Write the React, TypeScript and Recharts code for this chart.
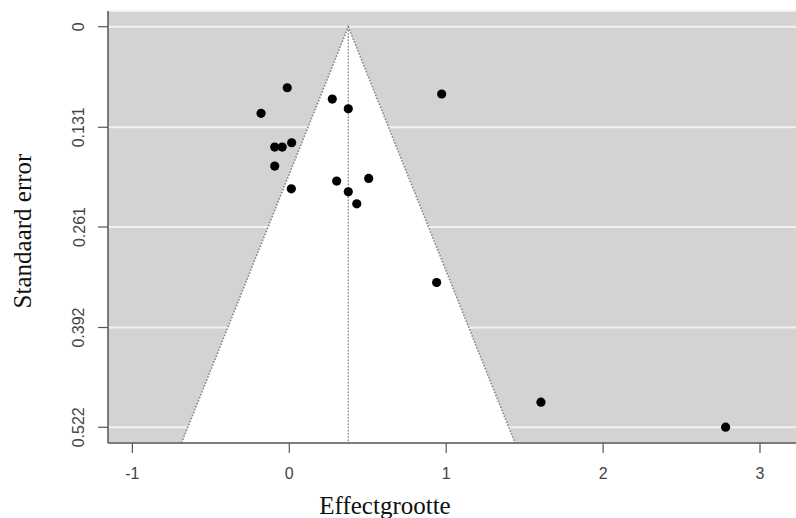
import {
  ComposedChart,
  Area,
  Scatter,
  XAxis,
  YAxis,
  CartesianGrid,
  ReferenceLine,
} from "recharts";

// studies: effect size and standard error
const effectSizes = [
  -0.013, -0.18, 0.274, 0.376, 0.971, 0.015, -0.093, -0.045, -0.093, 0.013,
  0.302, 0.506, 0.376, 0.43, 0.939, 1.604, 2.781,
];
const standardErrors = [
  0.0795, 0.1129, 0.0943, 0.1069, 0.0877, 0.1512, 0.1568, 0.1568, 0.1816,
  0.2112, 0.2012, 0.1977, 0.2151, 0.2308, 0.3333, 0.4893, 0.5219,
];

// funnel (pooled estimate +/- 1.96 se)
const pooledEffect = 0.376;
const funnelX = [-0.687, 0.376, 1.439];
const funnelSE = [0.5425, 0, 0.5425];

const xTicks = [-1, 0, 1, 2, 3];
const yTicks = [0, 0.131, 0.261, 0.392, 0.522];
const yTickLabels = ["0", "0.131", "0.261", "0.392", "0.522"];

const xDomain: [number, number] = [-1.1555, 3.2295];
const yDomain: [number, number] = [-0.0205, 0.5425];

const points = effectSizes.map((x, i) => ({ x, se: standardErrors[i] }));
const funnel = funnelX.map((x, i) => ({ x, se: funnelSE[i] }));

const tickFont = "'Liberation Sans', Arial, sans-serif";
const titleFont = "'Liberation Serif', 'Times New Roman', serif";

const XTick = (props: any) => (
  <text
    x={props.x}
    y={473}
    textAnchor="middle"
    dominantBaseline="central"
    fontFamily={tickFont}
    fontSize={16}
    fill="#444"
  >
    {props.payload.value}
  </text>
);

const YTick = (props: any) => {
  const idx = yTicks.indexOf(props.payload.value);
  const label = idx >= 0 ? yTickLabels[idx] : String(props.payload.value);
  return (
    <text
      x={79}
      y={props.y}
      transform={`rotate(-90, 79, ${props.y})`}
      textAnchor="middle"
      dominantBaseline="central"
      fontFamily={tickFont}
      fontSize={16}
      fill="#444"
    >
      {label}
    </text>
  );
};

const Dot = (props: any) => (
  <circle cx={props.cx} cy={props.cy} r={4.6} fill="#000" />
);

export default function App() {
  return (
    <div style={{ position: "absolute", left: 0, top: 0, background: "#fff" }}>
      <ComposedChart
        width={796}
        height={518}
        data={funnel}
        margin={{ top: 11, right: 0, left: 0, bottom: 0 }}
      >
        <CartesianGrid
          vertical={false}
          horizontal={true}
          fill="#d3d3d3"
          fillOpacity={1}
          stroke="#f2f2f2"
          strokeWidth={2}
        />
        <XAxis
          type="number"
          dataKey="x"
          domain={xDomain}
          ticks={xTicks}
          allowDataOverflow
          height={75}
          tickSize={10}
          tick={<XTick />}
          axisLine={{ stroke: "#555", strokeWidth: 1.5 }}
          tickLine={{ stroke: "#555", strokeWidth: 1.2 }}
          label={{
            content: () => (
              <text
                x={385}
                y={514}
                textAnchor="middle"
                fontFamily={titleFont}
                fontSize={25}
                fill="#111"
              >
                Effectgrootte
              </text>
            ),
          }}
        />
        <YAxis
          type="number"
          dataKey="se"
          reversed
          domain={yDomain}
          ticks={yTicks}
          allowDataOverflow
          width={108}
          tickSize={10}
          tick={<YTick />}
          axisLine={{ stroke: "#555", strokeWidth: 1.5 }}
          tickLine={{ stroke: "#555", strokeWidth: 1.2 }}
          label={{
            content: () => (
              <text
                x={31}
                y={231}
                transform="rotate(-90, 31, 231)"
                textAnchor="middle"
                fontFamily={titleFont}
                fontSize={25}
                fill="#111"
              >
                Standaard error
              </text>
            ),
          }}
        />
        <Area
          type="linear"
          dataKey="se"
          baseValue={funnelSE[0]}
          fill="#fff"
          fillOpacity={1}
          stroke="#888"
          strokeWidth={1.6}
          strokeDasharray="1.6 1.6"
          dot={false}
          activeDot={false}
          isAnimationActive={false}
        />
        <ReferenceLine
          segment={[
            { x: pooledEffect, y: 0 },
            { x: pooledEffect, y: funnelSE[0] },
          ]}
          stroke="#777"
          strokeWidth={1.2}
          strokeDasharray="1.6 1.6"
        />
        <Scatter
          data={points}
          dataKey="se"
          shape={<Dot />}
          isAnimationActive={false}
        />
      </ComposedChart>
    </div>
  );
}
